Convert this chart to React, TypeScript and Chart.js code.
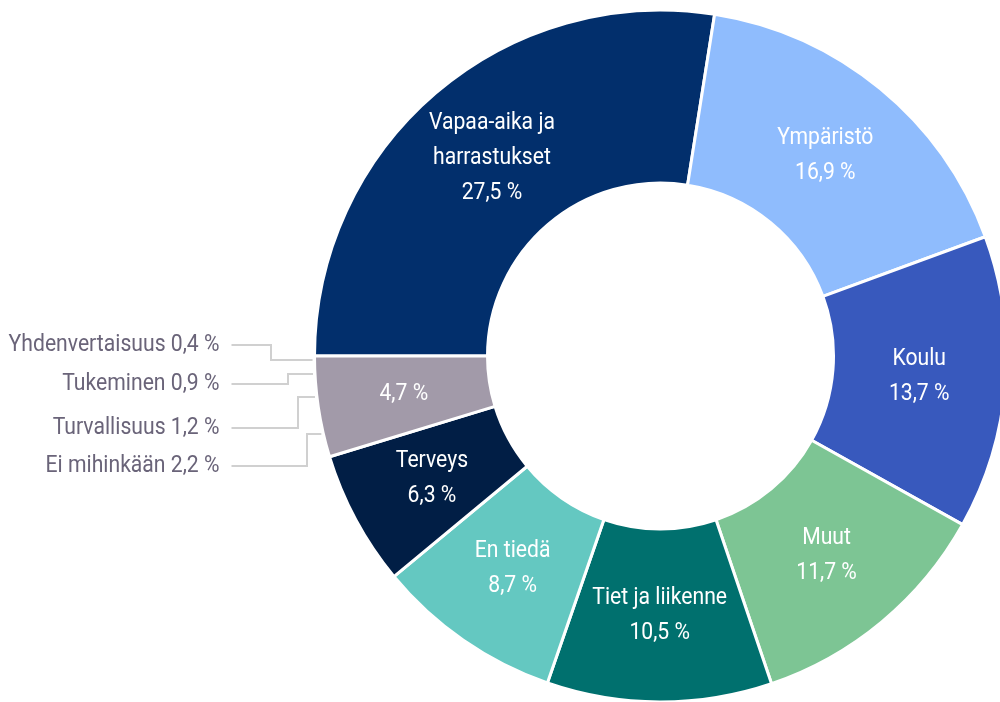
import React, { useEffect, useRef } from 'react';
import { Chart, registerables } from 'chart.js';

Chart.register(...registerables);

// ---- data ----
const categories: string[][] = [
  ['Vapaa-aika ja', 'harrastukset'],
  ['Ympäristö'],
  ['Koulu'],
  ['Muut'],
  ['Tiet ja liikenne'],
  ['En tiedä'],
  ['Terveys'],
  [],
];
const values = [27.5, 16.9, 13.7, 11.7, 10.5, 8.7, 6.3, 4.7];
const colors = ['#022f6c', '#8fbcfd', '#3859bd', '#7dc594', '#00706e', '#64c8c1', '#011e45', '#a29aa9'];

// breakdown of the grey slice, in clockwise order
const smallCategories = ['Ei mihinkään', 'Turvallisuus', 'Tukeminen', 'Yhdenvertaisuus'];
const smallValues = [2.2, 1.2, 0.9, 0.4];

const FONT = "Roboto, 'DejaVu Sans Condensed', sans-serif";
const SX = 0.92;
const fmt = (v: number) => v.toFixed(1).replace('.', ',') + ' %';

function drawNarrow(ctx: CanvasRenderingContext2D, text: string, x: number, y: number) {
  ctx.save();
  ctx.translate(x, y);
  ctx.scale(SX, 1);
  ctx.fillText(text, 0, 0);
  ctx.restore();
}

const innerLabels = {
  id: 'innerLabels',
  afterDatasetsDraw(chart: any) {
    const ctx = chart.ctx;
    const meta = chart.getDatasetMeta(0);
    ctx.save();
    ctx.font = `23px ${FONT}`;
    ctx.fillStyle = '#ffffff';
    ctx.textAlign = 'center';
    ctx.textBaseline = 'middle';
    const lh = 35;
    meta.data.forEach((arc: any, i: number) => {
      const p = arc.tooltipPosition(false);
      const lines = [...categories[i], fmt(values[i])];
      lines.forEach((t, j) => {
        drawNarrow(ctx, t, p.x, p.y + (j - (lines.length - 1) / 2) * lh);
      });
    });
    ctx.restore();
  },
};

const smallLabels = {
  id: 'smallLabels',
  afterDatasetsDraw(chart: any) {
    const ctx = chart.ctx;
    const meta = chart.getDatasetMeta(0);
    const arc: any = meta.data[meta.data.length - 1];
    const { x: cx, y: cy, startAngle, endAngle, outerRadius } = arc.getProps(['x', 'y', 'startAngle', 'endAngle', 'outerRadius']);
    const total = values[values.length - 1];
    const span = endAngle - startAngle;
    let acc = startAngle;
    const anchors = smallValues.map((v) => {
      const a0 = acc;
      acc += (span * v) / total;
      const mid = (a0 + acc) / 2;
      return { x: cx + outerRadius * Math.cos(mid), y: cy + outerRadius * Math.sin(mid) };
    });
    // label rows from top to bottom: reversed order
    const rowOffsets = [-11.5, 27.5, 71.5, 109.5];
    const elbowOffsets = [-43.5, -26.5, -16.5, -7.5];
    const left = cx - outerRadius;
    const textRight = left - 95;
    const lineStart = left - 83;
    ctx.save();
    ctx.font = `23px ${FONT}`;
    ctx.fillStyle = '#6a6479';
    ctx.textAlign = 'right';
    ctx.textBaseline = 'middle';
    ctx.strokeStyle = '#d0d0d0';
    ctx.lineWidth = 2;
    for (let r = 0; r < smallCategories.length; r++) {
      const idx = smallCategories.length - 1 - r;
      const ry = Math.round(cy + rowOffsets[r]);
      drawNarrow(ctx, `${smallCategories[idx]} ${fmt(smallValues[idx])}`, textRight, ry);
      const ex = Math.round(left + elbowOffsets[r]);
      const a = anchors[idx];
      ctx.beginPath();
      ctx.moveTo(lineStart, ry);
      ctx.lineTo(ex, ry);
      ctx.lineTo(ex, Math.round(a.y));
      ctx.lineTo(a.x - 2, Math.round(a.y));
      ctx.stroke();
    }
    ctx.restore();
  },
};

export default function App() {
  const ref = useRef<HTMLCanvasElement>(null);
  useEffect(() => {
    if (!ref.current) return;
    const chart = new Chart(ref.current, {
      type: 'doughnut',
      data: {
        labels: categories.map((c) => (c.length ? c.join(' ') : smallCategories.join(', '))),
        datasets: [
          {
            data: values,
            backgroundColor: colors,
            borderColor: '#ffffff',
            borderWidth: 3,
          },
        ],
      },
      options: {
        responsive: false,
        animation: false,
        rotation: -90,
        cutout: '50%',
        layout: { padding: { left: 313, right: 0, top: 8, bottom: 0 } },
        plugins: {
          legend: { display: false },
          tooltip: { enabled: false },
        },
      },
      plugins: [innerLabels, smallLabels],
    });
    return () => chart.destroy();
  }, []);
  return (
    <div style={{ position: 'fixed', left: 0, top: 0, width: 1000, height: 702, overflow: 'hidden', background: '#fff' }}>
      <canvas ref={ref} width={1008} height={704} style={{ width: 1008, height: 704, display: 'block' }} />
    </div>
  );
}
